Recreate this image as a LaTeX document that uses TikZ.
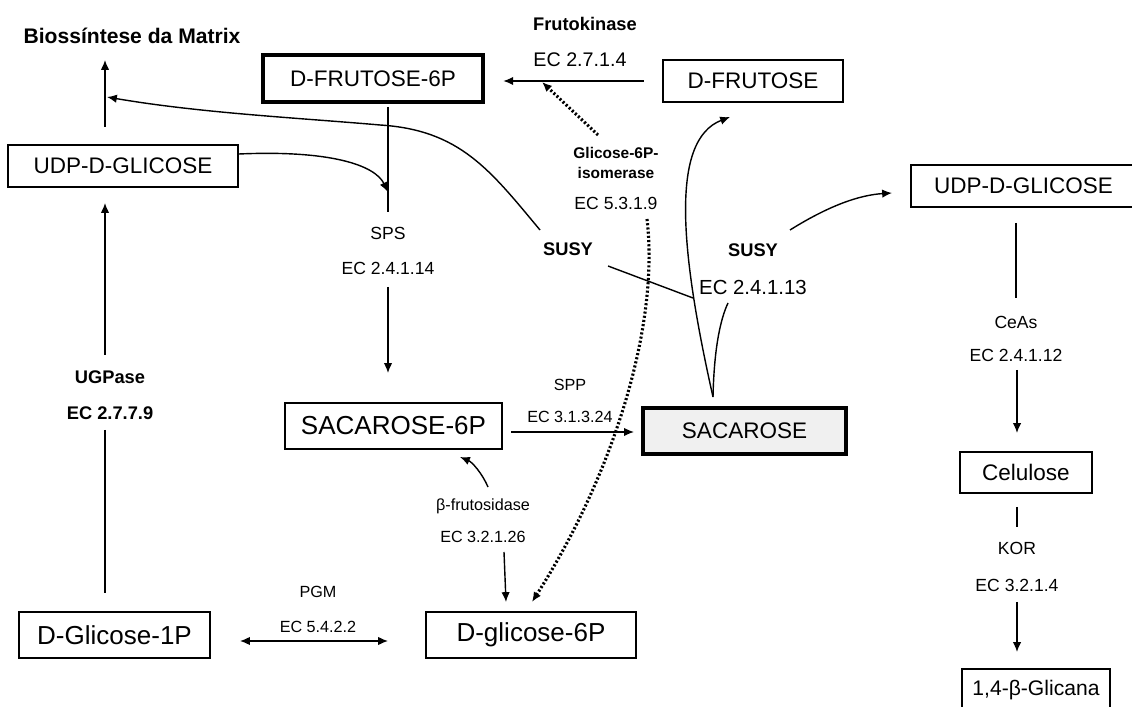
\documentclass[tikz,border=0pt]{standalone}
\usepackage{fontspec}
\setmainfont{Liberation Sans}
\usetikzlibrary{arrows.meta}
\tikzset{
  box/.style={draw, line width=1.3pt, minimum height=1.05cm, inner sep=0pt, font=\fontsize{16}{18}\selectfont},
  mainbox/.style={box, line width=2.8pt},
  bigger/.style={font=\fontsize{18.5}{20}\selectfont},
  lbl/.style={inner sep=1pt, font=\fontsize{12.5}{14}\selectfont},
  small/.style={inner sep=1pt, font=\fontsize{11.5}{14}\selectfont},
  enz/.style={inner sep=1pt, font=\bfseries\fontsize{13}{15}\selectfont},
  arr/.style={line width=1pt, -{Latex[length=7pt,width=6pt]}},
  link/.style={line width=1pt},
  dots/.style={line width=2.2pt, dash pattern=on 1.5pt off 1.5pt},
}
\begin{document}
\begin{tikzpicture}[x=0.025cm, y=-0.025cm]
  \useasboundingbox (0,0) rectangle (1132,707);

  \node[enz, font=\bfseries\fontsize{15}{17}\selectfont] (matrix) at (132,36) {Biossíntese da Matrix};
  \node[box, minimum width=5.75cm] (udpL) at (123,166) {UDP-D-GLICOSE};
  \node[mainbox, minimum width=5.5cm, minimum height=1.175cm] (f6p) at (373,78.5) {D-FRUTOSE-6P};
  \node[box, minimum width=4.5cm] (fru) at (753,81) {D-FRUTOSE};
  \node[box, minimum width=5.625cm] (udpR) at (1023.5,186) {UDP-D-GLICOSE};
  \node[box, bigger, minimum width=5.425cm, minimum height=1.15cm] (s6p) at (393.5,426) {SACAROSE-6P};
  \node[mainbox, fill=gray!12, minimum width=5.075cm, minimum height=1.15cm] (sac) at (744.5,431) {SACAROSE};
  \node[box, bigger, minimum width=5.25cm, minimum height=1.15cm] (g6p) at (531,635) {D-glicose-6P};
  \node[box, bigger, minimum width=4.775cm, minimum height=1.15cm] (g1p) at (114.5,635) {D-Glicose-1P};
  \node[box, minimum width=3.3cm, minimum height=1.025cm] (cel) at (1026,472.5) {Celulose};
  \node[box, font=\fontsize{15}{17}\selectfont, minimum width=3.7cm] (glc) at (1036,690) {1,4-β-Glicana};

  \node[enz] (fkL) at (585,24) {Frutokinase};
  \node[lbl, font=\fontsize{14}{16}\selectfont] (fkEC) at (580,60) {EC 2.7.1.4};
  \node[small, font=\bfseries\fontsize{11}{14}\selectfont, align=center] (isoL) at (616,163) {Glicose-6P-\\isomerase};
  \node[lbl] (isoEC) at (616,203) {EC 5.3.1.9};
  \node[lbl] (spsL) at (388,233) {SPS};
  \node[lbl] (spsEC) at (388,268) {EC 2.4.1.14};
  \node[enz] (susyL) at (568,249) {SUSY};
  \node[enz] (susyR) at (753,250) {SUSY};
  \node[lbl, font=\fontsize{14.5}{16}\selectfont] (susyEC) at (753,287) {EC 2.4.1.13};
  \node[lbl] (ceasL) at (1016,322) {CeAs};
  \node[lbl] (ceasEC) at (1016,355) {EC 2.4.1.12};
  \node[lbl] (korL) at (1017,548) {KOR};
  \node[lbl] (korEC) at (1017,585) {EC 3.2.1.4};
  \node[enz] (ugpL) at (110,377) {UGPase};
  \node[enz] (ugpEC) at (110,413) {EC 2.7.7.9};
  \node[small] (sppL) at (570,385) {SPP};
  \node[small] (sppEC) at (570,417) {EC 3.1.3.24};
  \node[small] (frutL) at (483,506) {β-frutosidase};
  \node[small] (frutEC) at (483,537) {EC 3.2.1.26};
  \node[small] (pgmL) at (318,592) {PGM};
  \node[small] (pgmEC) at (318,627) {EC 5.4.2.2};

  \coordinate (mA) at (105,127);
  \coordinate (mB) at (105,60);
  \coordinate (mC) at (107,97);
  \coordinate (sA) at (540,230);
  \coordinate (sB) at (380,125);
  \coordinate (spsA) at (388,107);
  \coordinate (spsB) at (388,212);
  \coordinate (spsC) at (388,192);
  \coordinate (spsD) at (388,287);
  \coordinate (spsE) at (388,373);
  \coordinate (isoA) at (598,135);
  \coordinate (isoB) at (542,82);
  \coordinate (isoC) at (647,219);
  \coordinate (isoD) at (532,602);
  \coordinate (suA) at (608,266);
  \coordinate (suB) at (693,298);
  \coordinate (sacA) at (713,397);
  \coordinate (sacB) at (730,117);
  \coordinate (sacC) at (728,303);
  \coordinate (suC) at (790,230);
  \coordinate (suD) at (892,193);
  \coordinate (ceA) at (1016,223);
  \coordinate (ceB) at (1016,298);
  \coordinate (ceC) at (1017,370);
  \coordinate (ceD) at (1017,433);
  \coordinate (koA) at (1017,507);
  \coordinate (koB) at (1017,527);
  \coordinate (koC) at (1017,602);
  \coordinate (koD) at (1017,652);
  \coordinate (frA) at (488,487);
  \coordinate (frB) at (460,457);
  \coordinate (frC) at (504,552);
  \coordinate (frD) at (506,602);
  \coordinate (pgA) at (240,641);
  \coordinate (pgB) at (388,641);
  \coordinate (ugA) at (105,355);
  \coordinate (ugB) at (105,203);
  \coordinate (ugC) at (105,430);
  \coordinate (ugD) at (105,593);

  \draw[arr] (mA) -- (mB);
  \draw[arr] (sA) .. controls (490,170) and (460,130) .. (sB) .. controls (300,118) and (200,113) .. (mC);
  \draw[arr] ([yshift=0.3cm]udpL.east) .. controls (330,150) and (375,165) .. (spsC);
  \draw[link] (spsA) -- (spsB);
  \draw[arr] (spsD) -- (spsE);
  \draw[arr, shorten <=13pt, shorten >=13pt] (fru.west) -- (fru.west -| f6p.east);
  \draw[dots, -{Latex[length=7pt,width=6pt]}] (isoA) -- (isoB);
  \draw[dots, -{Latex[length=7pt,width=6pt]}] (isoC) .. controls (660,330) and (610,480) .. (isoD);
  \draw[link] (suA) -- (suB);
  \draw[arr] (sacA) .. controls (680,250) and (670,140) .. (sacB);
  \draw[link] (sacA) .. controls (714,350) and (720,320) .. (sacC);
  \draw[arr] (suC) .. controls (830,205) and (860,195) .. (suD);
  \draw[link] (ceA) -- (ceB);
  \draw[arr] (ceC) -- (ceD);
  \draw[link] (koA) -- (koB);
  \draw[arr] (koC) -- (koD);
  \draw[arr, shorten <=6pt, shorten >=5pt] (s6p.east |- 0,432) -- (sac.west |- 0,432);
  \draw[arr] (frA) .. controls (482,473) and (472,462) .. (frB);
  \draw[arr] (frC) -- (frD);
  \draw[line width=1pt, {Latex[length=7pt,width=6pt]}-{Latex[length=7pt,width=6pt]}] (pgA) -- (pgB);
  \draw[arr] (ugA) -- (ugB);
  \draw[link] (ugC) -- (ugD);
\end{tikzpicture}
\end{document}
